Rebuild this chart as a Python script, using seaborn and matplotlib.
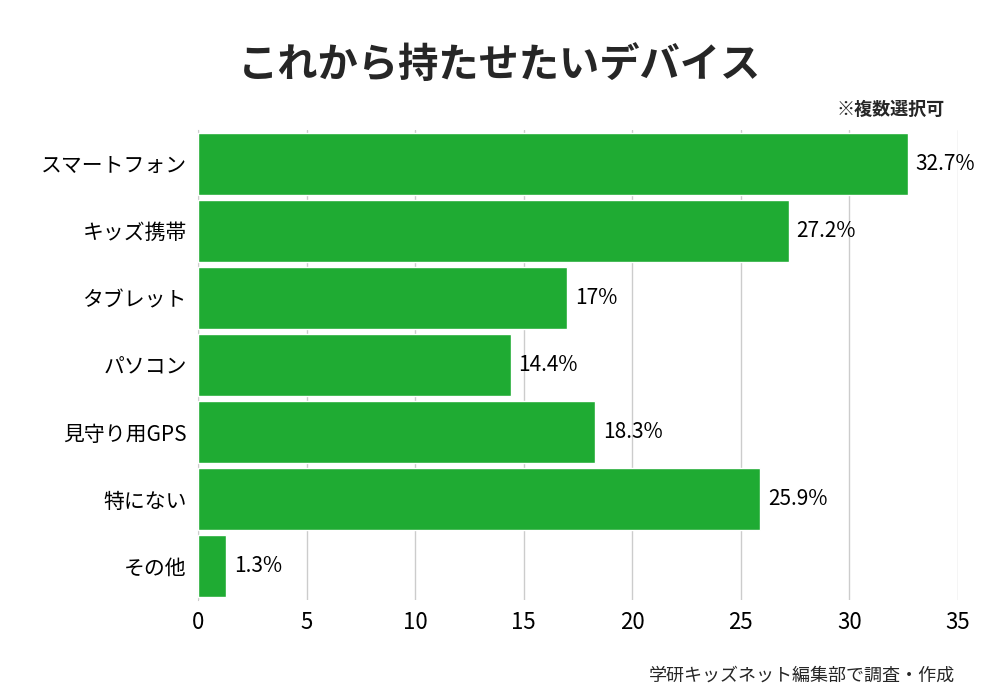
import matplotlib
matplotlib.use('Agg')
import matplotlib.pyplot as plt
import seaborn as sns
import pandas as pd

# データ
devices = ['スマートフォン', 'キッズ携帯', 'タブレット', 'パソコン', '見守り用GPS', '特にない', 'その他']
values = [32.7, 27.2, 17, 14.4, 18.3, 25.9, 1.3]
value_labels = ['32.7%', '27.2%', '17%', '14.4%', '18.3%', '25.9%', '1.3%']
x_ticks = [0, 5, 10, 15, 20, 25, 30, 35]

sns.set_style('white')
plt.rcParams['font.family'] = 'Noto Sans CJK JP'

df = pd.DataFrame({'device': devices, 'value': values})

fig = plt.figure(figsize=(10, 7), dpi=100)
ax = fig.add_axes([0.198, 0.143, 0.76, 0.671])

sns.barplot(data=df, y='device', x='value', color='#1fab33', saturation=1,
            width=0.92, ax=ax, zorder=3)

ax.set_xlim(0, 35)
ax.set_xticks(x_ticks)
ax.grid(axis='x', color='#cccccc', linewidth=1, zorder=0)
for s in ['top', 'right', 'bottom']:
    ax.spines[s].set_visible(False)
ax.spines['left'].set_color('#cccccc')
ax.tick_params(axis='both', length=0, labelsize=15, pad=8, labelcolor='black')
ax.tick_params(axis='x', labelsize=16)
ax.set_xlabel('')
ax.set_ylabel('')

# 数値ラベル
for i, (v, t) in enumerate(zip(values, value_labels)):
    ax.text(v + 0.35, i, t, va='center', ha='left', fontsize=15, color='black', zorder=4)

fig.text(0.5, 0.907, 'これから持たせたいデバイス', ha='center', va='center',
         fontsize=29, fontweight='bold')
fig.text(0.945, 0.843, '※複数選択可', ha='right', va='center', fontsize=13, fontweight='bold')
fig.text(0.955, 0.035, '学研キッズネット編集部で調査・作成', ha='right', va='center', fontsize=13)

fig.savefig('out.png', dpi=100)
